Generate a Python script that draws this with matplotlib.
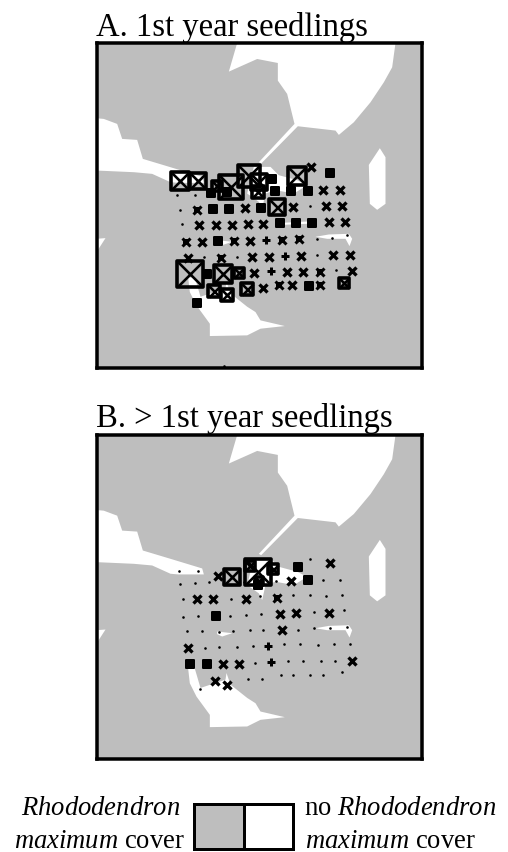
import matplotlib
matplotlib.use("Agg")
from matplotlib import pyplot as plt
from matplotlib.markers import MarkerStyle
from matplotlib.patches import Polygon, Rectangle

plt.rcParams['font.family'] = ['Liberation Serif', 'DejaVu Serif']
plt.rcParams['mathtext.fontset'] = 'custom'
plt.rcParams['mathtext.it'] = 'Liberation Serif:italic'
plt.rcParams['mathtext.rm'] = 'Liberation Serif'

W, H = 508, 853
GREY = '#bebebe'

# white gaps in the cover, map units (same plot in both panels)
gap_top = [(440,12),(415,98),(500,60),(562,72),(562,125),(590,165),(612,255),(505,370),(512,374),(622,262),
           (735,275),(745,288),(790,250),(840,190),(880,130),(905,85),(915,12)]
gap_left = [(18,238),(40,240),(80,255),(95,300),(140,303),(157,360),(240,385),(335,414),(340,432),(264,432),
            (240,430),(185,405),(130,400),(18,395)]
gap_center = [(490,384),(540,384),(565,409),(620,424),(650,439),(610,464),(555,454),(525,464),(515,509),(505,489),(470,464)]
gap_wedge = [(18,600),(45,598),(18,640)]
gap_blob = [(868,328),(885,355),(885,495),(860,513),(838,495),(835,378)]
gap_strip = [(675,594),(715,587),(775,585),(785,600),(777,622),(765,600),(710,600)]
gap_small = [(380,604),(425,609),(395,619),(380,612)]
gap_bottom = [(293,716),(313,716),(330,774),(405,749),(408,729),(420,764),(470,804),(495,820),(510,845),(583,862),
              (510,870),(470,890),(358,892),(358,855),(318,800),(298,760)]
gap_extra_a = [(575,552),(650,548),(650,555),(580,558)]

# panel A markers
a_dots_x = [260,312,268,273,340,440,657,680,725,768,678,737,400]
a_dots_y = [467,467,514,557,655,656,503,600,597,590,648,693,983]
a_cross_x = [463,608,707,755,698,748,325,375,424,471,518,714,762,333,478,291,485,534,630,728,778,491,589,638,785,516,605,660]
a_cross_y = [508,505,503,502,452,452,560,560,558,557,556,550,550,610,606,658,655,654,651,648,648,704,701,700,697,748,740,385]
a_heavy_x = [318,285,430,575,624,390,566,687,687]
a_heavy_y = [513,610,607,603,601,657,739,739,700]
a_plus_x = [527,583,540]
a_plus_y = [604,653,698]
a_fill_x = [367,416,512,568,617,665,381,349,320,553,602,651,717,545,654,410,360]
a_fill_y = [511,510,507,554,553,552,607,706,793,457,455,455,403,420,741,460,462]
a_box_x = [268,323,378,420,475,505,503,560,620,299,396,445,371,408,468,759]
a_box_y = [427,426,442,445,412,428,460,505,412,707,705,703,758,768,751,733]
a_box_s = [58,52,37,78,74,52,44,54,60,82,58,38,42,40,42,38]

# panel B markers
b_dots_x = [266,322,268,312,354,277,421,508,608,659,706,755,277,323,419,465,512,669,760,288,335,384,427,477,518,622,671,
            718,769,343,386,438,487,580,627,682,731,777,494,592,637,692,733,572,606,657,696,755,473,515,329,657,698,747,556,460]
b_dots_y = [421,421,461,458,455,506,506,497,495,495,497,495,559,557,558,554,550,546,540,603,603,606,603,600,598,598,592,
            592,589,655,650,650,648,643,643,645,642,642,699,694,694,694,692,735,735,736,734,727,746,746,776,385,448,448,451,454]
b_cross_x = [381,602,718,319,368,465,568,616,714,575,292,397,445,784,372,409]
b_cross_y = [436,452,399,507,507,505,551,549,547,599,655,702,701,693,754,765]
b_heavy_x = [560]
b_heavy_y = [502]
b_plus_x = [533,540]
b_plus_y = [649,697]
b_fill_x = [622,651,375,299,348,502]
b_fill_y = [409,450,556,703,703,464]
b_box_x = [425,503,477,548,505]
b_box_y = [441,424,406,416,451]
b_box_s = [52,82,34,36,28]

fig = plt.figure(figsize=(W/100, H/100), dpi=100, facecolor='white')
px = 0.72  # points per image pixel
round_sq = MarkerStyle('s', joinstyle='round')


def panel(top, bottom, gaps, dots, cross, heavy, plus, fill, box):
    ax = fig.add_axes([96.5/W, 1-bottom/H, 325/W, (bottom-top)/H])
    ax.set_facecolor(GREY)
    ax.set_xlim(18, 993)
    ax.set_ylim(988, 12)
    ax.set_xticks([])
    ax.set_yticks([])
    for s in ax.spines.values():
        s.set_linewidth(3.5*px)
    for g in gaps:
        ax.add_patch(Polygon(g, closed=True, fc='white', ec='none', zorder=1))
    ax.plot(dots[0], dots[1], ls='', marker='o', ms=2.6*px, color='k', mew=0, zorder=3)
    ax.plot(cross[0], cross[1], ls='', marker='x', ms=8.3*px, mew=3.3*px, color='k', zorder=3)
    ax.plot(heavy[0], heavy[1], ls='', marker='s', ms=6.5*px, color='k', mew=0, zorder=3)
    ax.plot(heavy[0], heavy[1], ls='', marker='x', ms=8.5*px, mew=3*px, color='k', zorder=3)
    ax.plot(plus[0], plus[1], ls='', marker='+', ms=8.5*px, mew=3*px, color='k', zorder=3)
    ax.plot(fill[0], fill[1], ls='', marker=round_sq, ms=7.5*px, mew=2*px, color='k', zorder=3)
    for x, y, s in zip(box[0], box[1], box[2]):
        size = s/3*px
        ax.plot([x], [y], ls='', marker=round_sq, ms=size-2*px, mfc='none', mec='k', mew=3.6*px, zorder=4)
        ax.plot([x], [y], ls='', marker='x', ms=size-3*px, mec='k', mew=2.6*px, zorder=4)
    return ax


gaps = [gap_top, gap_left, gap_center, gap_wedge, gap_blob, gap_strip, gap_small, gap_bottom]
panel(44, 369, gaps + [gap_extra_a], (a_dots_x, a_dots_y), (a_cross_x, a_cross_y), (a_heavy_x, a_heavy_y),
      (a_plus_x, a_plus_y), (a_fill_x, a_fill_y), (a_box_x, a_box_y, a_box_s))
panel(436, 760, gaps, (b_dots_x, b_dots_y), (b_cross_x, b_cross_y), (b_heavy_x, b_heavy_y),
      (b_plus_x, b_plus_y), (b_fill_x, b_fill_y), (b_box_x, b_box_y, b_box_s))

fig.text(96/W, 1-36/H, 'A. 1st year seedlings', fontsize=23.5, color='k', va='baseline')
fig.text(96/W, 1-427/H, 'B. > 1st year seedlings', fontsize=23.5, color='k', va='baseline')

# legend
leg = fig.add_axes([0, 0, 1, 1], facecolor='none')
leg.set_xlim(0, W)
leg.set_ylim(H, 0)
leg.axis('off')
leg.add_patch(Rectangle((194, 805), 49.5, 45, fc=GREY, ec='k', lw=3*px))
leg.add_patch(Rectangle((243.5, 805), 49.5, 45, fc='white', ec='k', lw=3*px))
leg.text(101, 815, r'$\mathit{Rhododendron}$', fontsize=19.2, ha='center', va='baseline')
leg.text(185, 848, r'$\mathit{maximum}$ cover', fontsize=19.2, ha='right', va='baseline')
leg.text(304, 815, r'no $\mathit{Rhododendron}$', fontsize=19.2, ha='left', va='baseline')
leg.text(305, 848, r'$\mathit{maximum}$ cover', fontsize=19.2, ha='left', va='baseline')

fig.savefig('out.png', dpi=100)
